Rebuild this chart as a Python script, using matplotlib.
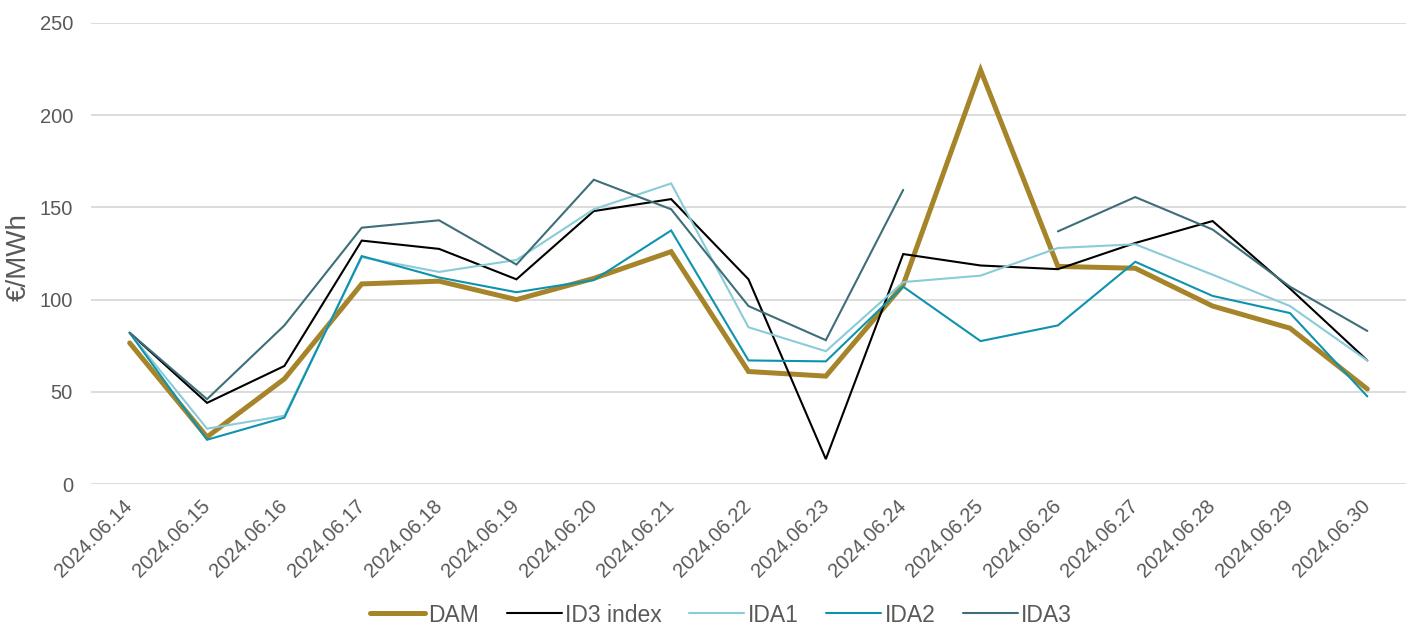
import numpy as np
import matplotlib
matplotlib.use("Agg")
import matplotlib.pyplot as plt

plt.rcParams['font.family'] = ['Liberation Sans', 'DejaVu Sans']

dates = ['2024.06.14', '2024.06.15', '2024.06.16', '2024.06.17', '2024.06.18',
         '2024.06.19', '2024.06.20', '2024.06.21', '2024.06.22', '2024.06.23',
         '2024.06.24', '2024.06.25', '2024.06.26', '2024.06.27', '2024.06.28',
         '2024.06.29', '2024.06.30']

dam = [76.5, 25.5, 57, 108.5, 110, 100, 111.5, 126, 61, 58.5, 108, 224.5, 118, 117, 96.5, 84.5, 51.5]
id3 = [82, 44, 64, 132, 127.5, 111, 148, 154.5, 111, 13.5, 124.7, 118.5, 116.5, 130.7, 142.6, 106, 67]
ida1 = [82, 30, 37, 123, 115, 121.5, 149, 163, 85, 72, 109.5, 113, 128, 130, 113.5, 96.5, 67]
ida2 = [82, 24, 36, 123.6, 112, 104, 110.6, 137.5, 67, 66.5, 107, 77.5, 86, 120.5, 102, 92.7, 47.5]
ida3 = [82, 46, 86, 139, 143, 119, 165, 149, 96.5, 78, 159.5, np.nan, 137, 155.6, 138, 107, 83]

series = [
    ('DAM', dam, '#A6852A', 3.6),
    ('ID3 index', id3, '#000000', 1.5),
    ('IDA1', ida1, '#8ACBD8', 1.5),
    ('IDA2', ida2, '#0E93AE', 1.5),
    ('IDA3', ida3, '#3E6E78', 1.5),
]

fig = plt.figure(figsize=(14.11, 6.26), dpi=100)
ax = fig.add_axes([91 / 1411, 1 - 484 / 626, 1315 / 1411, 461 / 626])

x = np.arange(len(dates))
for name, vals, col, lw in series:
    ax.plot(x, vals, color=col, lw=lw, label=name, solid_capstyle='round',
            solid_joinstyle='miter', zorder=2 if name == 'DAM' else 3)

ax.set_xlim(-0.5, len(dates) - 0.5)
ax.set_ylim(0, 250)
ax.set_yticks(range(0, 251, 50))
ax.set_xticks(x)
ax.set_xticklabels(dates, rotation=45, ha='right', va='center', rotation_mode='anchor')
ax.grid(axis='y', color='#D9D9D9', lw=1.3)
ax.set_axisbelow(True)
for s in ax.spines.values():
    s.set_visible(False)
ax.tick_params(length=0, labelsize=14.5, colors='#595959')
ax.tick_params(axis='y', pad=13)
ax.tick_params(axis='x', pad=14)

fig.text(19 / 1411, 1 - 257 / 626, '€/MWh', rotation=90, ha='center', va='center',
         fontsize=20, color='#595959')

fig.legend(loc='center', bbox_to_anchor=(0.511, 1 - 615 / 626), ncol=5, frameon=False,
           fontsize=16.5, labelcolor='#595959', handlelength=2.4, handletextpad=0.15,
           columnspacing=1.2, borderaxespad=0, borderpad=0)

fig.savefig('out.png', dpi=100)
